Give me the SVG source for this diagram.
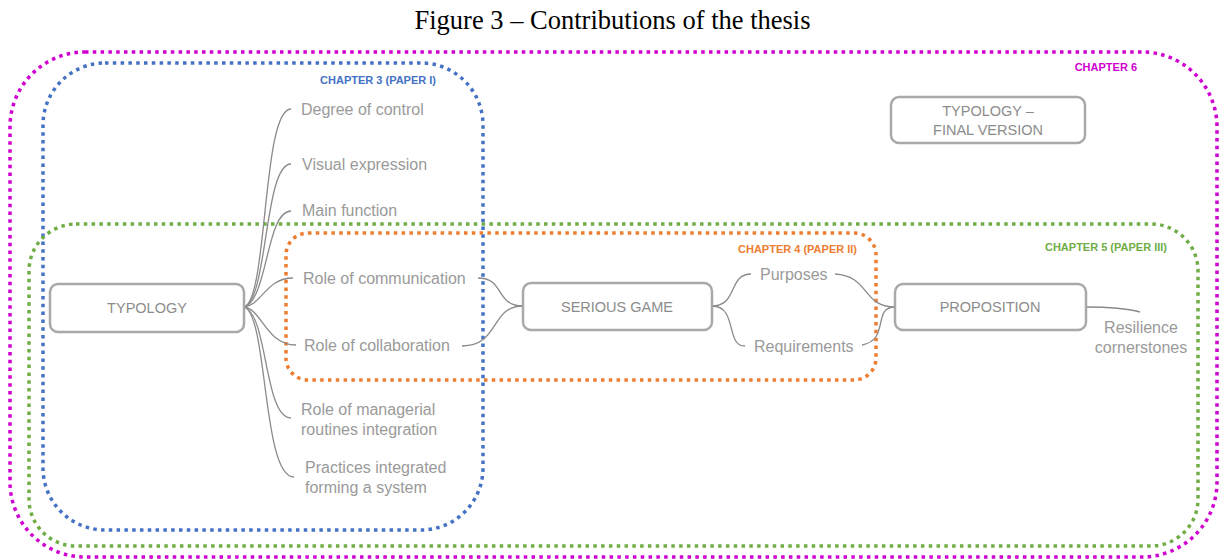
<svg xmlns="http://www.w3.org/2000/svg" width="1219" height="559" viewBox="0 0 1219 559">
<style>
.title{font-family:"Liberation Serif","Times New Roman",serif;font-size:26.5px;fill:#000}
.grp{fill:none;stroke-width:3.5;stroke-dasharray:3.5 4.3}
.chap{font-family:"Liberation Sans",Arial,sans-serif;font-size:11px;font-weight:bold;text-anchor:end}
.node rect{fill:#fff;stroke:#a9a9a9;stroke-width:2.5}
.ntxt{font-family:"Liberation Sans",Arial,sans-serif;font-size:14.5px;fill:#8c8c8c;text-anchor:middle}
.leaf{font-family:"Liberation Sans",Arial,sans-serif;font-size:16px;fill:#9a9a9a}
.conn path{fill:none;stroke:#8a8a8a;stroke-width:1.3}
</style>
<rect width="1219" height="559" fill="#fff"/>
<text class="title" x="612.5" y="29" text-anchor="middle">Figure 3 – Contributions of the thesis</text>

<g id="chapter6">
<rect class="grp" x="10" y="52" width="1207" height="505" rx="75" ry="75" stroke="#d000d0"/>
<text class="chap" x="1137" y="71" fill="#d000d0">CHAPTER 6</text>
</g>
<g id="chapter3">
<rect class="grp" x="43" y="63" width="440" height="467" rx="62" ry="62" stroke="#4472c4"/>
<text class="chap" x="436" y="84" fill="#4472c4">CHAPTER 3 (PAPER I)</text>
</g>
<g id="chapter5">
<rect class="grp" x="29" y="224" width="1169" height="322" rx="47" ry="47" stroke="#70ad47"/>
<text class="chap" x="1167" y="251" fill="#70ad47">CHAPTER 5 (PAPER III)</text>
</g>
<g id="chapter4">
<rect class="grp" x="286" y="233" width="590" height="147" rx="22" ry="22" stroke="#ed7d31"/>
<text class="chap" x="857" y="253" fill="#ed7d31">CHAPTER 4 (PAPER II)</text>
</g>

<g class="conn" id="connectors">
<path d="M244,307 C268,300 262,109 291,109"/>
<path d="M244,307 C268,300 264,164 291,164"/>
<path d="M244,307 C268,300 266,211 291,211"/>
<path d="M244,307 C262,305 266,278 293,278"/>
<path d="M244,307 C262,309 266,345 296,345"/>
<path d="M244,307 C268,314 264,418 291,418"/>
<path d="M244,307 C268,314 262,477 294,477"/>
<path d="M478,278 C505,278 495,306 523,306"/>
<path d="M462,346 C500,346 490,306 523,306"/>
<path d="M712,306 C738,306 728,274 751,274"/>
<path d="M712,306 C738,306 725,346 745,346"/>
<path d="M835,274 C870,276 862,307 895,307"/>
<path d="M862,345 C890,340 872,307 895,307"/>
<path d="M1086,307 C1110,307 1125,308 1140,312"/>
</g>

<g id="typology" class="node">
<rect x="50" y="284" width="194" height="48" rx="8"/>
<text class="ntxt" x="147" y="313">TYPOLOGY</text>
</g>
<g id="serious-game" class="node">
<rect x="523" y="283" width="189" height="47" rx="8"/>
<text class="ntxt" x="617" y="312">SERIOUS GAME</text>
</g>
<g id="proposition" class="node">
<rect x="895" y="284" width="191" height="46" rx="8"/>
<text class="ntxt" x="990" y="312">PROPOSITION</text>
</g>
<g id="typology-final" class="node">
<rect x="891" y="97" width="194" height="46" rx="8"/>
<text class="ntxt" x="988" y="116">TYPOLOGY –</text>
<text class="ntxt" x="988" y="135">FINAL VERSION</text>
</g>

<g id="leaf-degree"><text class="leaf" x="301" y="115">Degree of control</text></g>
<g id="leaf-visual"><text class="leaf" x="302" y="170">Visual expression</text></g>
<g id="leaf-main"><text class="leaf" x="302" y="216">Main function</text></g>
<g id="leaf-communication"><text class="leaf" x="303" y="284">Role of communication</text></g>
<g id="leaf-collaboration"><text class="leaf" x="304" y="351">Role of collaboration</text></g>
<g id="leaf-managerial"><text class="leaf" x="301" y="415">Role of managerial<tspan x="301" y="435">routines integration</tspan></text></g>
<g id="leaf-practices"><text class="leaf" x="305" y="473">Practices integrated<tspan x="305" y="493">forming a system</tspan></text></g>
<g id="leaf-purposes"><text class="leaf" x="760" y="280">Purposes</text></g>
<g id="leaf-requirements"><text class="leaf" x="754" y="352">Requirements</text></g>
<g id="leaf-resilience"><text class="leaf" x="1141" y="333" text-anchor="middle">Resilience<tspan x="1141" y="353">cornerstones</tspan></text></g>
</svg>
